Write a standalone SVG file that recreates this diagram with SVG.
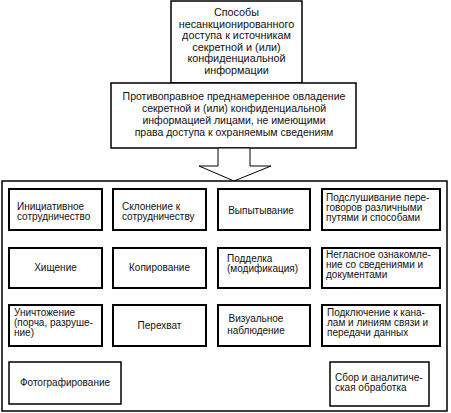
<svg xmlns="http://www.w3.org/2000/svg" width="451" height="413" viewBox="0 0 451 413">
<style>
.b{fill:#fff;stroke:#000;stroke-width:1.5}
.c{fill:#fff;stroke:#000;stroke-width:2}
text{font-family:"Liberation Sans",Arial,sans-serif;font-size:10px;fill:#111}
.m{text-anchor:middle}
.t{font-size:10.8px}
.d{font-size:10.5px}
</style>
<rect x="0" y="0" width="451" height="413" fill="#fff"/>
<g id="source">
<rect class="b" x="171" y="1" width="131" height="82"/>
<text class="m t" x="236.5" y="16">Способы</text>
<text class="m t" x="236.5" y="27.5">несанкционированного</text>
<text class="m t" x="236.5" y="39">доступа к источникам</text>
<text class="m t" x="236.5" y="50.5">секретной и (или)</text>
<text class="m t" x="236.5" y="62">конфиденциальной</text>
<text class="m t" x="236.5" y="73.5">информации</text>
</g>
<g id="definition">
<rect class="b" x="111" y="83" width="245" height="65"/>
<text class="m d" x="234" y="100">Противоправное преднамеренное овладение</text>
<text class="m d" x="234" y="112">секретной и (или) конфиденциальной</text>
<text class="m d" x="234" y="124">информацией лицами, не имеющими</text>
<text class="m d" x="234" y="136">права доступа к охраняемым сведениям</text>
</g>
<g id="connectors">
<polygon points="218,148 218,166 199,166 234,181 271,166 250,166 250,148" fill="#fff" stroke="#000" stroke-width="1"/>
</g>
<g id="methods">
<rect class="b" x="2" y="181" width="445" height="230"/>
</g>
<g id="n1"><rect class="c" x="9" y="189" width="93" height="41"/>
<text x="17" y="210">Инициативное</text><text x="17" y="220">сотрудничество</text></g>
<g id="n2"><rect class="c" x="113" y="189" width="93" height="41"/>
<text x="122" y="210">Склонение к</text><text x="122" y="220">сотрудничеству</text></g>
<g id="n3"><rect class="c" x="218" y="189" width="92" height="41"/>
<text class="m" x="261" y="214">Выпытывание</text></g>
<g id="n4"><rect class="c" x="322" y="189" width="118" height="41"/>
<text x="326" y="201">Подслушивание пере-</text><text x="326" y="211">говоров различными</text><text x="326" y="221">путями и способами</text></g>
<g id="n5"><rect class="c" x="9" y="248" width="93" height="40"/>
<text class="m" x="55.5" y="271">Хищение</text></g>
<g id="n6"><rect class="c" x="113" y="248" width="93" height="40"/>
<text class="m" x="159.5" y="271">Копирование</text></g>
<g id="n7"><rect class="c" x="218" y="248" width="92" height="40"/>
<text x="227" y="262">Подделка</text><text x="227" y="272">(модификация)</text></g>
<g id="n8"><rect class="c" x="322" y="248" width="118" height="40"/>
<text x="326" y="258">Негласное ознакомле-</text><text x="326" y="268">ние со сведениями и</text><text x="326" y="278">документами</text></g>
<g id="n9"><rect class="c" x="9" y="305" width="93" height="41"/>
<text x="14" y="316">Уничтожение</text><text x="14" y="326">(порча, разруше-</text><text x="14" y="336">ние)</text></g>
<g id="n10"><rect class="c" x="113" y="305" width="93" height="41"/>
<text class="m" x="159.5" y="329">Перехват</text></g>
<g id="n11"><rect class="c" x="218" y="305" width="92" height="41"/>
<text class="m" x="256" y="322">Визуальное</text><text class="m" x="256" y="334">наблюдение</text></g>
<g id="n12"><rect class="c" x="322" y="305" width="118" height="41"/>
<text x="327" y="316">Подключение к кана-</text><text x="327" y="326">лам и линиям связи и</text><text x="327" y="336">передачи данных</text></g>
<g id="n13"><rect class="b" x="9" y="362" width="112" height="42"/>
<text class="m" x="65" y="386">Фотографирование</text></g>
<g id="n14"><rect class="b" x="330" y="362" width="99" height="44"/>
<text x="335" y="381">Сбор и аналитиче-</text><text x="335" y="391">ская обработка</text></g>
</svg>
